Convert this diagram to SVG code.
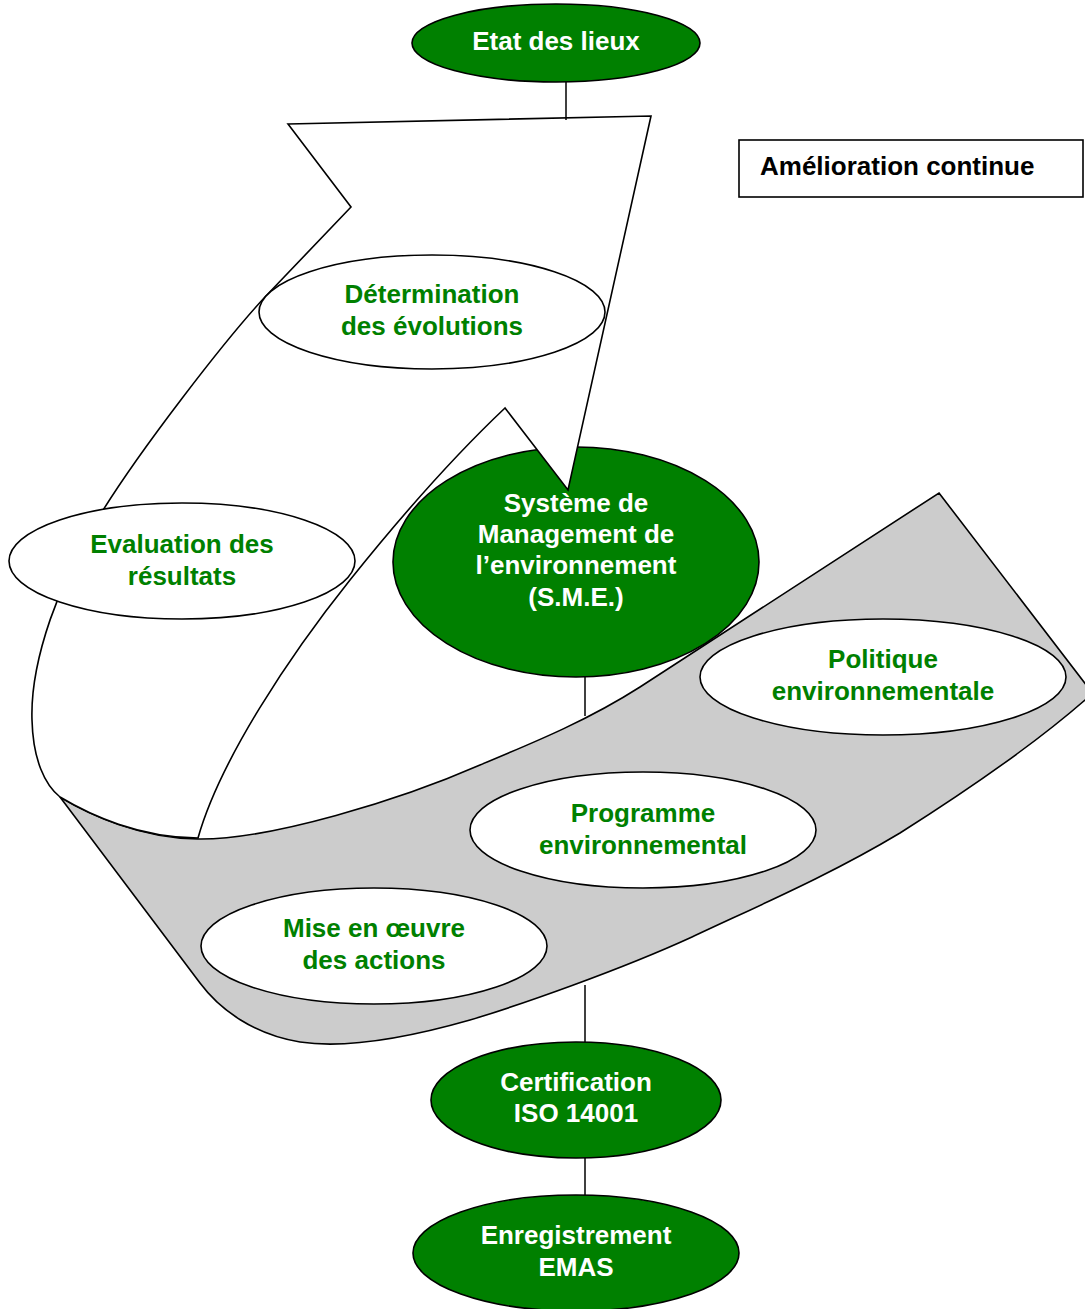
<svg xmlns="http://www.w3.org/2000/svg" width="1085" height="1309" viewBox="0 0 1085 1309">
<style>
text{font-family:"Liberation Sans",Arial,sans-serif;font-weight:bold;font-size:26px;text-anchor:middle}
.g{fill:#008000;stroke:#000;stroke-width:1.6}
.w{fill:#fff;stroke:#000;stroke-width:1.6}
.tw{fill:#fff}
.tg{fill:#008000}
.ln{stroke:#000;stroke-width:1.5;fill:none}
</style>
<rect width="1085" height="1309" fill="#fff"/>
<g id="arrow-band">
<path fill="#cccccc" stroke="#000" stroke-width="1.6" d="M939,493 L1097,699 L1097,690 L1085,700 C1030,748 960,795 900,833 C830,875 760,905 692,937 C620,970 520,1005 470,1020 C400,1040 340,1048 300,1042 C255,1035 220,1010 200,983 L60,797 C90,815 140,838 198,839 C270,840 400,800 480,765 C540,740 590,719 640,687 Z"/>
</g>
<g id="sme">
<ellipse class="g" cx="576" cy="562" rx="183" ry="115"/>
</g>
<g id="arrow-up">
<path fill="#fff" stroke="#000" stroke-width="1.6" d="M288,124 L651,116 L568,490 L505,408 C450,460 390,530 350,580 C290,655 220,760 198,838 C140,838 90,815 60,797 C45,785 33,760 32,720 C30,660 60,580 100,515 C140,450 225,340 265,297 L351,207 Z"/>
</g>
<g id="sme-text">
<text class="tw" x="576" y="512">Système de</text>
<text class="tw" x="576" y="543">Management de</text>
<text class="tw" x="576" y="574">l’environnement</text>
<text class="tw" x="576" y="606">(S.M.E.)</text>
</g>
<g id="connectors">
<line class="ln" x1="566" y1="82" x2="566" y2="120"/>
<line class="ln" x1="585" y1="677" x2="585" y2="716"/>
<line class="ln" x1="585" y1="985" x2="585" y2="1042"/>
<line class="ln" x1="585" y1="1158" x2="585" y2="1195"/>
</g>
<g id="etat">
<ellipse class="g" cx="556" cy="43" rx="144" ry="39"/>
<text class="tw" x="556" y="50">Etat des lieux</text>
</g>
<g id="amelioration">
<rect x="739" y="140" width="344" height="57" fill="#fff" stroke="#000" stroke-width="1.6"/>
<text x="760" y="175" style="text-anchor:start" fill="#000">Amélioration continue</text>
</g>
<g id="determination">
<ellipse class="w" cx="432" cy="312" rx="173" ry="57"/>
<text class="tg" x="432" y="303">Détermination</text>
<text class="tg" x="432" y="335">des évolutions</text>
</g>
<g id="evaluation">
<ellipse class="w" cx="182" cy="561" rx="173" ry="58"/>
<text class="tg" x="182" y="553">Evaluation des</text>
<text class="tg" x="182" y="585">résultats</text>
</g>
<g id="politique">
<ellipse class="w" cx="883" cy="677" rx="183" ry="58"/>
<text class="tg" x="883" y="668">Politique</text>
<text class="tg" x="883" y="700">environnementale</text>
</g>
<g id="programme">
<ellipse class="w" cx="643" cy="830" rx="173" ry="58"/>
<text class="tg" x="643" y="822">Programme</text>
<text class="tg" x="643" y="854">environnemental</text>
</g>
<g id="mise">
<ellipse class="w" cx="374" cy="946" rx="173" ry="58"/>
<text class="tg" x="374" y="937">Mise en œuvre</text>
<text class="tg" x="374" y="969">des actions</text>
</g>
<g id="certification">
<ellipse class="g" cx="576" cy="1100" rx="145" ry="58"/>
<text class="tw" x="576" y="1091">Certification</text>
<text class="tw" x="576" y="1122">ISO 14001</text>
</g>
<g id="emas">
<ellipse class="g" cx="576" cy="1253" rx="163" ry="58"/>
<text class="tw" x="576" y="1244">Enregistrement</text>
<text class="tw" x="576" y="1276">EMAS</text>
</g>
</svg>
